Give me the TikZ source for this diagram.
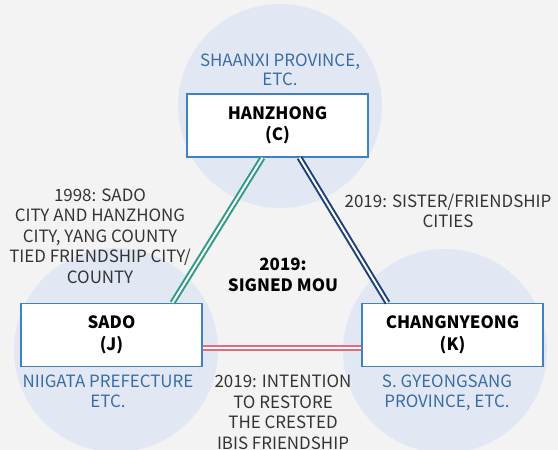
\documentclass[tikz,border=0pt]{standalone}
\usepackage{fontspec}
\setmainfont{Noto Sans CJK KR}
\begin{document}
\begin{tikzpicture}[x=1bp,y=-1bp,
  citybox/.style={draw=boxblue,line width=1.4bp,fill=white,minimum width=181bp,minimum height=63bp,align=center,font=\fontsize{17}{21.5}\selectfont\bfseries,text=black},
  areatext/.style={align=center,font=\fontsize{17}{20}\selectfont,text=areablue,anchor=base},
  note/.style={align=center,font=\fontsize{17}{20.5}\selectfont,text=notegray,anchor=base},
  link/.style={line width=2bp,double=white,double distance=2bp},
]
\definecolor{bg}{HTML}{F3F3F3}
\definecolor{regionfill}{HTML}{E1E8F4}
\definecolor{boxblue}{HTML}{3F82C4}
\definecolor{areablue}{HTML}{3A6CA4}
\definecolor{notegray}{HTML}{333333}
\definecolor{linkgreen}{HTML}{2E9A84}
\definecolor{linkblue}{HTML}{1C3F78}
\definecolor{linkred}{HTML}{E8687C}

\useasboundingbox (0,0) rectangle (558,450);
\clip (0,0) rectangle (558,450);
\fill[bg] (0,0) rectangle (558,450);

% regions behind each city
\fill[regionfill] (280,106) circle (102);
\fill[regionfill] (116,350) circle (102);
\fill[regionfill] (445,351) circle (102);

% city boxes
\node[citybox] (c) at (277.5,125.5) {HANZHONG\\(C)};
\node[citybox] (j) at (111.5,335) {SADO\\(J)};
\node[citybox] (k) at (452.5,335) {CHANGNYEONG\\(K)};

% links
\draw[link,linkgreen] ([xshift=-15bp]c.south) -- ([xshift=61bp]j.north);
\draw[link,linkblue] ([xshift=22bp]c.south) -- ([xshift=-65bp]k.north);
\draw[link,linkred] ([yshift=-12.5bp]j.east) -- ([yshift=-12.5bp]k.west);

% region names (positioned at the baseline of the last line)
\node[areatext] (ca) at (280,86) {SHAANXI PROVINCE,\\ETC.};
\node[areatext] (ja) at (108,407) {NIIGATA PREFECTURE\\ETC.};
\node[areatext] (ka) at (447,407) {S. GYEONGSANG\\PROVINCE, ETC.};

% link notes
\node[note] (n1) at (100,283) {1998: SADO\\CITY AND HANZHONG\\CITY, YANG COUNTY\\TIED FRIENDSHIP CITY/\\COUNTY};
\node[note] (n2) at (448,228) {2019: SISTER/FRIENDSHIP\\CITIES};
\node[note] (n3) at (283,449) {2019: INTENTION\\TO RESTORE\\THE CRESTED\\IBIS FRIENDSHIP};
\node[note,font=\fontsize{17}{21}\selectfont\bfseries,text=black] (n4) at (283,291) {2019:\\SIGNED MOU};
\end{tikzpicture}
\end{document}
